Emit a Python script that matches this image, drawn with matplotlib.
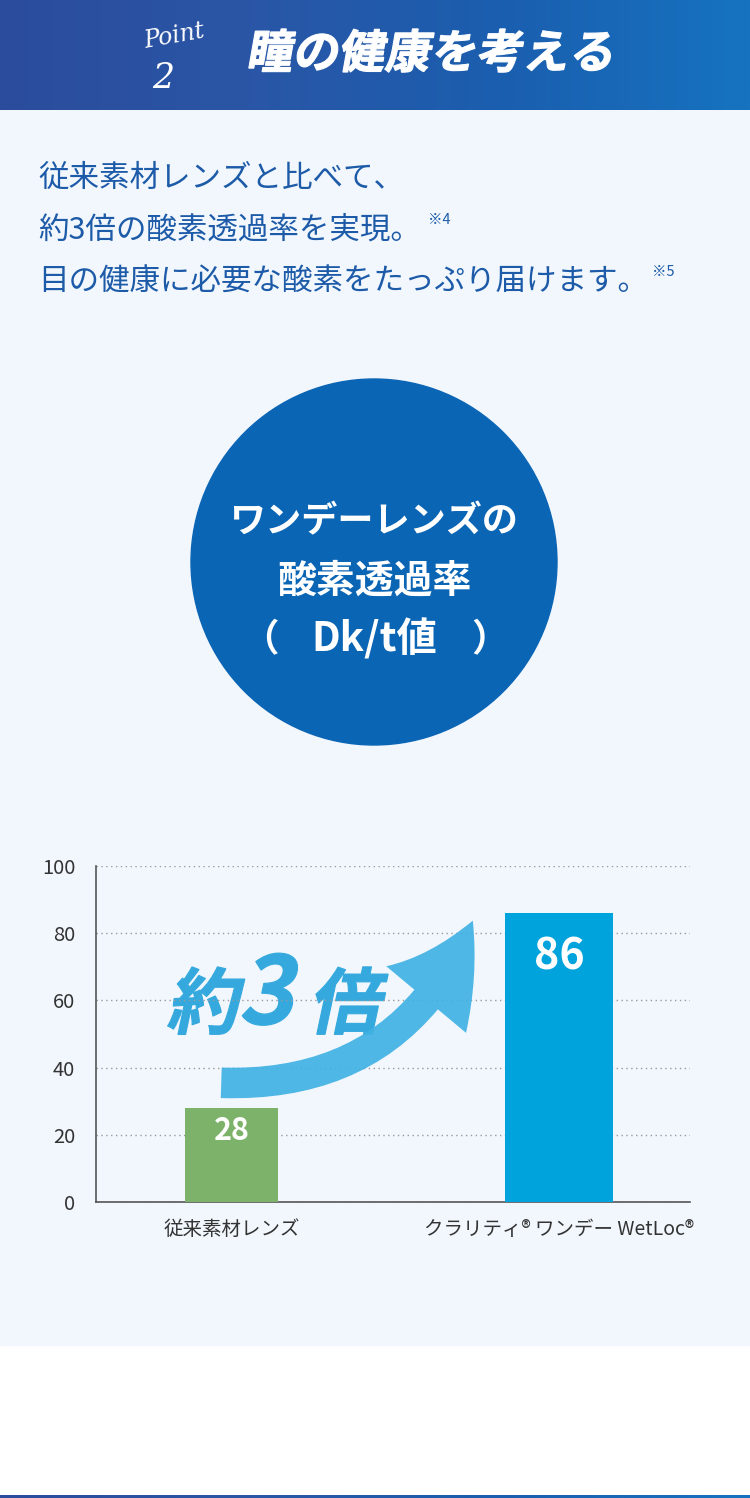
import numpy as np
import matplotlib
matplotlib.use('Agg')
import matplotlib.pyplot as plt
from matplotlib.patches import Circle, Rectangle, FancyArrowPatch, PathPatch
from matplotlib.textpath import TextPath
from matplotlib.font_manager import FontProperties
from matplotlib.transforms import Affine2D

plt.rcParams['font.family'] = ['Noto Sans CJK JP', 'DejaVu Sans']

# data
categories = ['従来素材レンズ', 'クラリティ® ワンデー WetLoc®']
dk_values = [28, 86]
bar_colors = ['#7db26a', '#00a3db']
y_ticks = [0, 20, 40, 60, 80, 100]

intro_lines = [
    '従来素材レンズと比べて、',
    '約3倍の酸素透過率を実現。',
    '目の健康に必要な酸素をたっぷり届けます。',
]
notes = ['', '※4', '※5']
circle_lines = ['ワンデーレンズの', '酸素透過率', 'Dk/t値']

W, H = 750, 1498
fig = plt.figure(figsize=(W / 100, H / 100), dpi=100)
fig.patch.set_facecolor('white')

# background axes in pixel coords
bg = fig.add_axes([0, 0, 1, 1])
bg.set_xlim(0, W)
bg.set_ylim(H, 0)
bg.axis('off')

bg.add_patch(Rectangle((0, 110), W, 1235, color='#f1f7fd', zorder=0))

# header gradient
grad = np.linspace(0, 1, 256).reshape(1, -1)
cmap = matplotlib.colors.LinearSegmentedColormap.from_list(
    'hdr', ['#2c4c9c', '#2a56a6', '#1b5eaf', '#1673c0'])
bg.imshow(grad, extent=[0, W, 110, 0], aspect='auto', cmap=cmap, zorder=1)
bg.imshow(grad, extent=[0, W, H, H - 3], aspect='auto', cmap=cmap, zorder=1)

bg.text(174, 36, 'Point', color='white', fontsize=17, style='italic',
        family='DejaVu Serif', ha='center', va='center', rotation=10,
        zorder=3)
bg.text(163, 78, '2', color='white', fontsize=25, style='italic',
        family='DejaVu Serif', ha='center', va='center', zorder=3)


def slanted(text, x, y, size, color, skew=12, weight='bold'):
    prop = FontProperties(family='Noto Sans CJK JP', weight=weight)
    path = TextPath((0, 0), text, size=size, prop=prop)
    tr = Affine2D().skew_deg(skew, 0).scale(1, -1).translate(x, y)
    bg.add_patch(PathPatch(tr.transform_path(path), facecolor=color,
                           edgecolor=color, lw=0.8, zorder=6))


slanted('瞳の健康を考える', 246, 68, 46, 'white', skew=10)

# intro text
for i, line in enumerate(intro_lines):
    bg.text(38, 178 + 52 * i, line, color='#1d5ba8', fontsize=22,
            ha='left', va='center', zorder=3)
note_x = [0, 428, 652]
for i, note in enumerate(notes):
    if note:
        bg.text(note_x[i], 168 + 52 * i, note, color='#1d5ba8', fontsize=10.5,
                ha='left', va='center', zorder=3)

# circle
bg.add_patch(Circle((374, 562), 183, color='#0b65b5', zorder=2))
bg.text(374, 522, circle_lines[0], color='white', fontsize=26,
        weight='bold', ha='center', va='center', zorder=3)
bg.text(374, 581, circle_lines[1], color='white', fontsize=28,
        weight='bold', ha='center', va='center', zorder=3)
bg.text(374, 640, circle_lines[2], color='white', fontsize=29,
        weight='bold', ha='center', va='center', zorder=3)
bg.text(260, 640, '（', color='white', fontsize=27, weight='bold',
        ha='center', va='center', zorder=3)
bg.text(490, 640, '）', color='white', fontsize=27, weight='bold',
        ha='center', va='center', zorder=3)

# chart axes
left, right, top, bottom = 96, 690, 866, 1202
ax = fig.add_axes([left / W, 1 - bottom / H, (right - left) / W,
                   (bottom - top) / H])
ax.patch.set_alpha(0)
x = np.arange(len(categories))
bars = ax.bar(x, dk_values, width=[0.284, 0.33], color=bar_colors, zorder=3)
ax.set_xlim(-0.414, 1.40)
ax.set_ylim(0, 100)
ax.set_yticks(y_ticks)
ax.set_xticks(x)
ax.set_xticklabels(categories, fontsize=14, color='#333333')
ax.tick_params(axis='y', labelsize=14.5, labelcolor='#333333', length=0,
               pad=15)
ax.tick_params(axis='x', length=0, pad=12)
ax.grid(axis='y', linestyle=(0, (1, 2.5)), color='#999999', lw=1)
ax.set_axisbelow(True)
for s in ['top', 'right']:
    ax.spines[s].set_visible(False)
for s in ['left', 'bottom']:
    ax.spines[s].set_color('#555555')
    ax.spines[s].set_linewidth(1.2)

label_sizes = [22, 31]
label_offsets = [7, 13]
for b, v, fs, off in zip(bars, dk_values, label_sizes, label_offsets):
    ax.text(b.get_x() + b.get_width() / 2, v - off, str(v), color='white',
            fontsize=fs, weight='bold', ha='center', va='center', zorder=4)

# arrow
arrow = FancyArrowPatch((-0.04, 35.5), (0.74, 84.5),
                        connectionstyle='arc3,rad=0.35',
                        arrowstyle='simple,head_length=3.0,head_width=3.4,tail_width=1.0',
                        mutation_scale=22, color='#40b2e3', alpha=0.92,
                        lw=0, zorder=5)
ax.add_patch(arrow)

slanted('約', 166, 1028, 72, '#35a9de')
slanted('3', 238, 1024, 94, '#35a9de')
slanted('倍', 308, 1028, 72, '#35a9de')

fig.savefig('out.png', dpi=100)
